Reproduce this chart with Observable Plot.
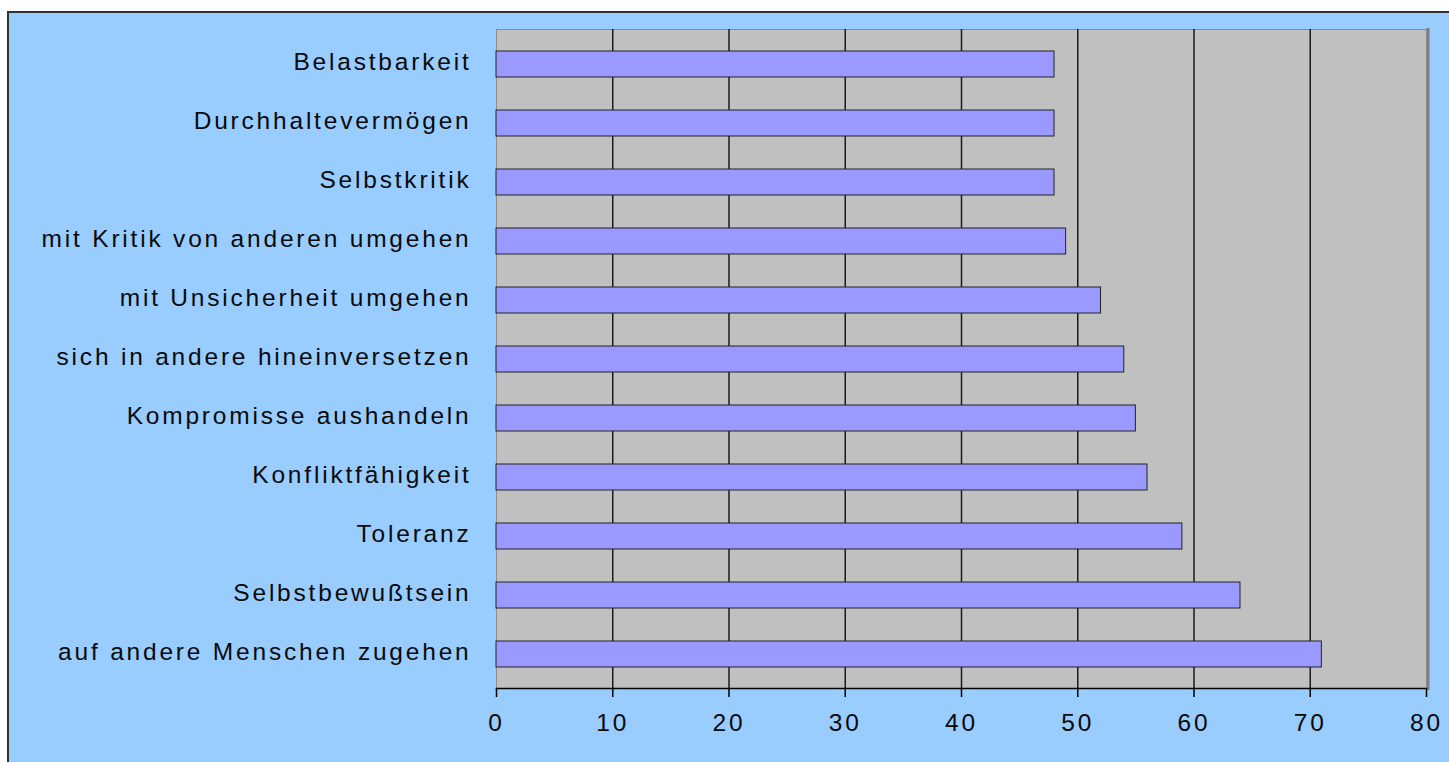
<!DOCTYPE html>
<html>
<head>
<meta charset="utf-8">
<script src="https://cdn.jsdelivr.net/npm/d3@7"></script>
<script src="https://cdn.jsdelivr.net/npm/@observablehq/plot@0.6"></script>
<style>
  html, body { margin: 0; padding: 0; background: #ffffff; }
  #wrap { position: relative; width: 1449px; height: 762px; overflow: hidden; }
  #bg { position: absolute; left: 7px; top: 11px; right: -5px; bottom: -5px;
        background: #99CCFF; border-top: 2px solid #333; border-left: 2px solid #333; }
  #chart { position: absolute; left: 0; top: 0; }
  #chart svg text { letter-spacing: 2.8px; }
</style>
</head>
<body>
<div id="wrap"><div id="bg"></div><div id="chart"></div></div>
<script>
const labels = [
  "Belastbarkeit",
  "Durchhaltevermögen",
  "Selbstkritik",
  "mit Kritik von anderen umgehen",
  "mit Unsicherheit umgehen",
  "sich in andere hineinversetzen",
  "Kompromisse aushandeln",
  "Konfliktfähigkeit",
  "Toleranz",
  "Selbstbewußtsein",
  "auf andere Menschen zugehen"
];
const values = [48, 48, 48, 49, 52, 54, 55, 56, 59, 64, 71];
const xTicks = [0, 10, 20, 30, 40, 50, 60, 70, 80];
const gridTicks = [10, 20, 30, 40, 50, 60, 70];

const data = labels.map((label, i) => ({label, value: values[i]}));

const chart = Plot.plot({
  width: 1449,
  height: 762,
  marginLeft: 496,
  marginRight: 23,
  marginTop: 29,
  marginBottom: 74,
  style: {background: "transparent", fontFamily: "'Liberation Sans', Arial, sans-serif", color: "#0a0a0a"},
  x: {domain: [0, 80]},
  y: {domain: labels, paddingInner: 0.567, paddingOuter: 0.283},
  marks: [
    Plot.frame({fill: "#C0C0C0", stroke: "#8c8c8c", strokeWidth: 1}),
    Plot.frame({anchor: "right", stroke: "#808080", strokeWidth: 3, dx: 1.5}),
    Plot.gridX(gridTicks, {stroke: "#1a1a1a", strokeOpacity: 1, strokeWidth: 1.5}),
    Plot.barX(data, {x: "value", y: "label", fill: "#9999FF", stroke: "#222", strokeWidth: 1}),
    Plot.ruleX(data, {x: "value", y: "label", stroke: "#000", strokeWidth: 3, dx: 0.5}),
    Plot.frame({anchor: "bottom", stroke: "#000", strokeWidth: 1.5}),
    Plot.axisX({ticks: xTicks, tickSize: 9, tickPadding: 16, fontSize: 24.5, stroke: "#000", strokeWidth: 1.5, tickFormat: d => String(d), label: null}),
    Plot.axisY({tickSize: 0, tickPadding: 25, fontSize: 24.5, dy: -2, label: null})
  ]
});
document.getElementById("chart").appendChild(chart);
</script>
</body>
</html>
